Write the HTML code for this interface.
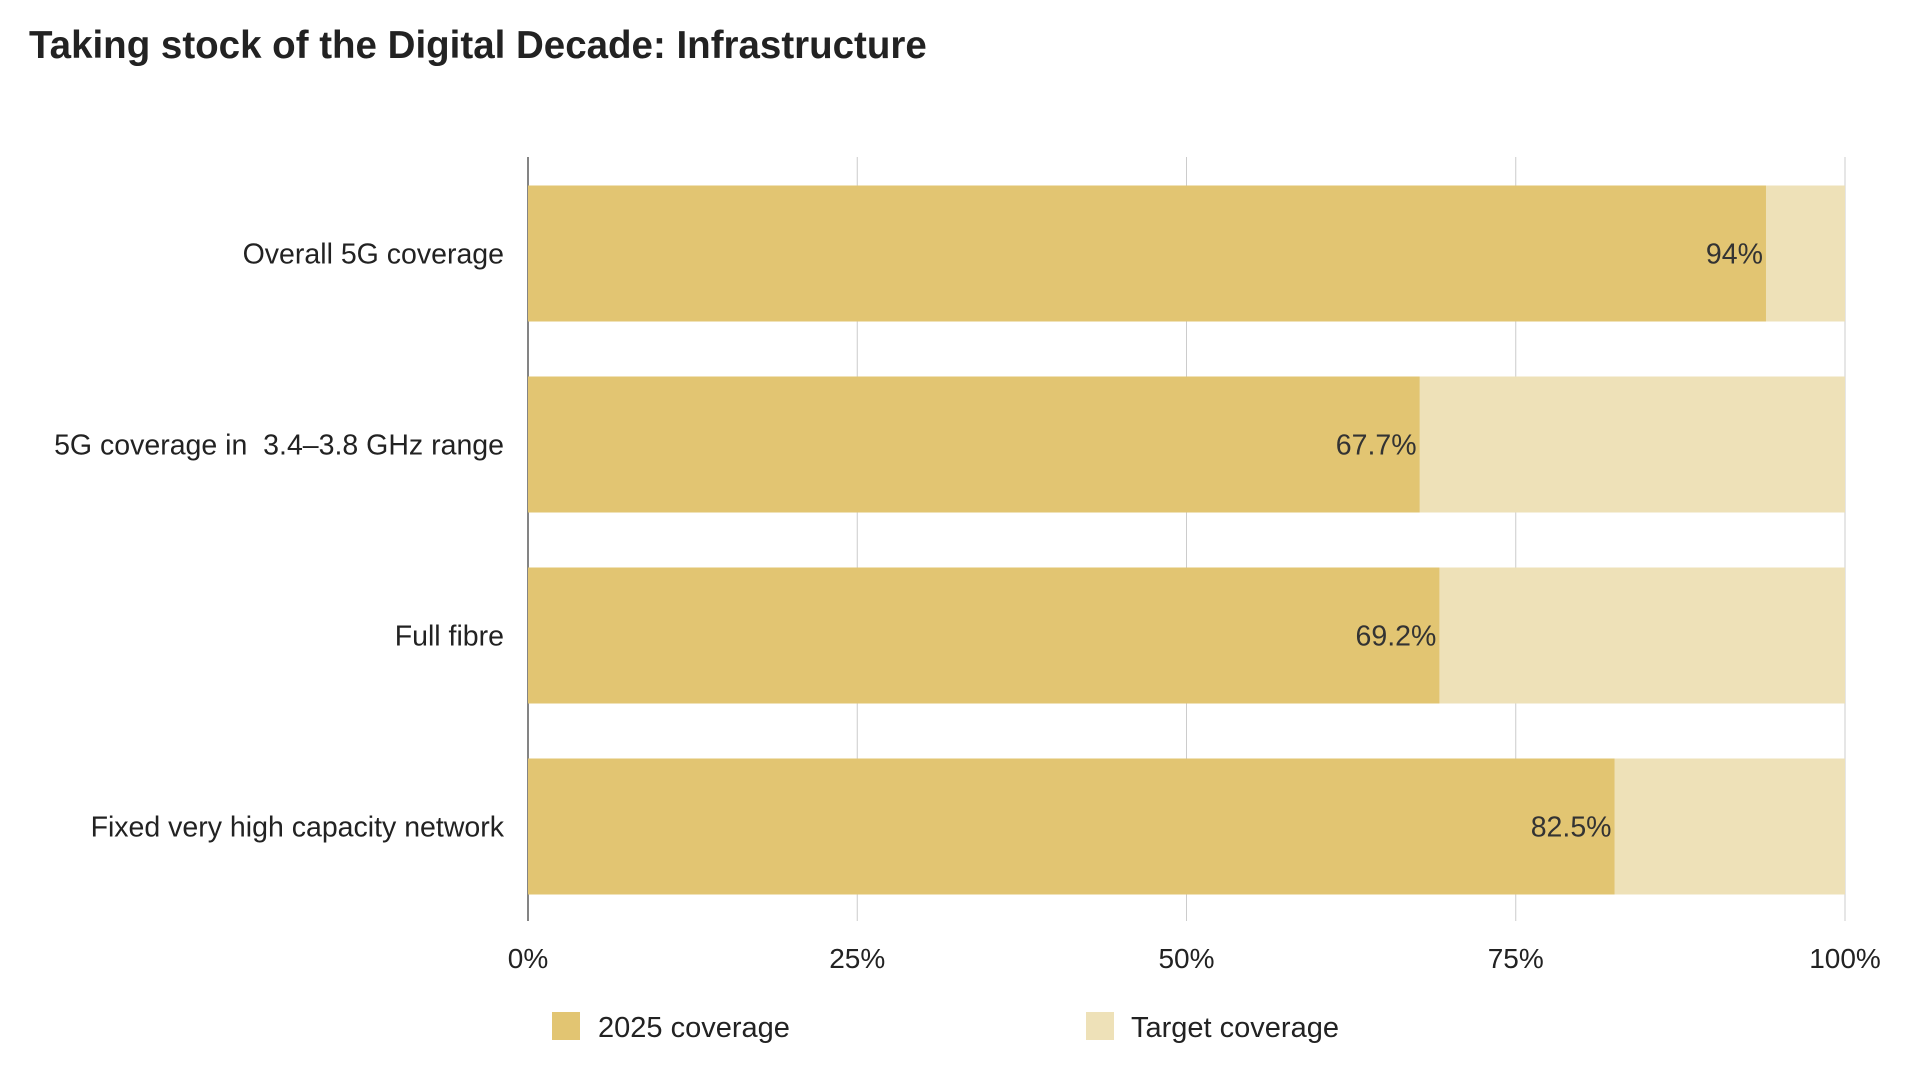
<!DOCTYPE html>
<html><head><meta charset="utf-8"><style>
body{margin:0;background:#fff;width:1920px;height:1080px;overflow:hidden;font-family:"Liberation Sans",sans-serif;}
text{white-space:pre;}
</style></head><body>
<svg id="chart" width="1920" height="1080" font-family="Liberation Sans, sans-serif">
<text x="29" y="58" font-size="38.5" font-weight="bold" fill="#222">Taking stock of the Digital Decade: Infrastructure</text>
<g id="grid"></g><g id="bars"></g><g id="labels"></g>
<g>
<rect x="552" y="1012" width="28" height="28" fill="#e2c572"/>
<text x="598" y="1037" font-size="29" fill="#222">2025 coverage</text>
<rect x="1086" y="1012" width="28" height="28" fill="#eee1b8"/>
<text x="1131" y="1037" font-size="29" fill="#222">Target coverage</text>
</g>
</svg>
<script>
const categories=["Overall 5G coverage","5G coverage in  3.4–3.8 GHz range","Full fibre","Fixed very high capacity network"];
const values=[94,67.7,69.2,82.5];
const valueLabels=["94%","67.7%","69.2%","82.5%"];
const targets=[100,100,100,100];
const ticks=[0,25,50,75,100];
const tickLabels=["0%","25%","50%","75%","100%"];
const NS="http://www.w3.org/2000/svg";
const X0=528,X1=1845,TOP=157,BOT=921;
const x=v=>X0+(X1-X0)*v/100;
const band=(BOT-TOP)/categories.length;
const y=i=>TOP+band*i+(band-136)/2+1;
function mk(t,a,p){const e=document.createElementNS(NS,t);for(const k in a)e.setAttribute(k,a[k]);p.appendChild(e);return e;}
const g=document.getElementById('grid'),b=document.getElementById('bars'),l=document.getElementById('labels');
ticks.forEach((t,i)=>{
 const ln=mk('line',{x1:x(t),x2:x(t),y1:TOP,y2:BOT,stroke:i==0?'#333':'#ccc','stroke-width':i==0?1.2:1},g);
 
 
 const tx=mk('text',{x:x(t),y:968,'font-size':28,'text-anchor':'middle',fill:'#222'},l);
 tx.textContent=tickLabels[i];
 
 
});
categories.forEach((c,i)=>{
 const bt=mk('rect',{x:x(0),y:y(i),width:x(targets[i])-x(0),height:136,fill:'#eee1b8'},b);
 
 
 const bv=mk('rect',{x:x(0),y:y(i),width:x(values[i])-x(0),height:136,fill:'#e2c572'},b);
 
 
 const cl=mk('text',{x:504,y:y(i)+68+10,'font-size':28.5,'text-anchor':'end',fill:'#222'},l);
 cl.textContent=c;
 
 
 const vl=mk('text',{x:x(values[i])-3,y:y(i)+68+10,'font-size':28.5,'text-anchor':'end',fill:'#333'},l);
 vl.textContent=valueLabels[i];
 
 
});
</script>
</body></html>
